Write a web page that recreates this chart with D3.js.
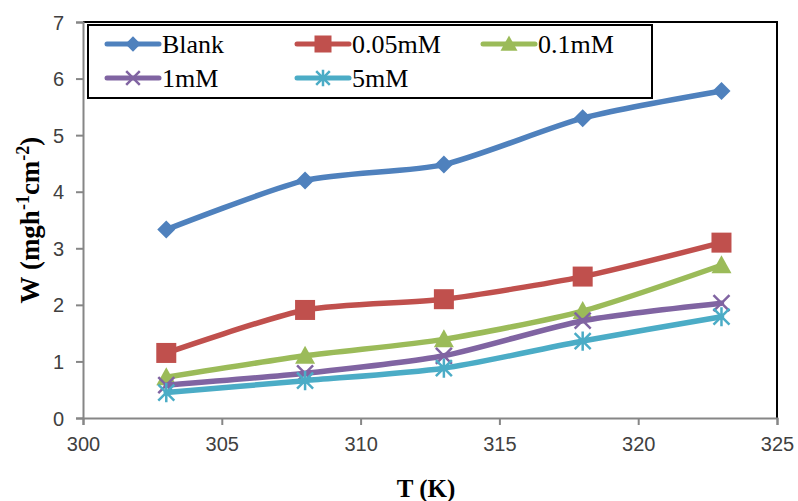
<!DOCTYPE html>
<html>
<head>
<meta charset="utf-8">
<script src="https://cdn.jsdelivr.net/npm/d3@7"></script>
<style>
  body { margin: 0; background: #fff; }
  .tick text { font-family: "Liberation Sans", Arial, sans-serif; font-size: 20px; fill: #404040; }
  .serif { font-family: "Liberation Serif", "Times New Roman", serif; }
</style>
</head>
<body>
<div id="chart"></div>
<script>
var temps = [303, 308, 313, 318, 323];
var blank = [3.33, 4.2, 4.48, 5.3, 5.78];
var c005  = [1.15, 1.91, 2.1, 2.5, 3.1];
var c01   = [0.72, 1.1, 1.39, 1.89, 2.7];
var c1    = [0.58, 0.79, 1.1, 1.72, 2.03];
var c5    = [0.45, 0.66, 0.88, 1.36, 1.79];
var xTicks = [300, 305, 310, 315, 320, 325];
var yTicks = [0, 1, 2, 3, 4, 5, 6, 7];

var series = [
  {name: "Blank",   values: blank, color: "#4F81BD", marker: "diamond"},
  {name: "0.05mM",  values: c005,  color: "#C0504D", marker: "square"},
  {name: "0.1mM",   values: c01,   color: "#9BBB59", marker: "triangle"},
  {name: "1mM",     values: c1,    color: "#8064A2", marker: "x"},
  {name: "5mM",     values: c5,    color: "#4BACC6", marker: "star"}
];

var margin = {top: 22, right: 21, bottom: 83, left: 83};
var W = 798, H = 501;
var width = W - margin.left - margin.right;
var height = H - margin.top - margin.bottom;

var x = d3.scaleLinear().domain([300, 325]).range([0, width]);
var y = d3.scaleLinear().domain([0, 7]).range([height, 0]);

var svg = d3.select("#chart").append("svg").attr("width", W).attr("height", H);
var g = svg.append("g").attr("transform", "translate(" + margin.left + "," + margin.top + ")");

// frame top / right
g.append("path").attr("d", "M0,0H" + width + "V" + height)
  .attr("fill", "none").attr("stroke", "#000").attr("stroke-width", 2);

var axX = g.append("g").attr("transform", "translate(0," + height + ")")
  .call(d3.axisBottom(x).tickValues(xTicks).tickFormat(d3.format("d")).tickSize(7).tickPadding(12));
var axY = g.append("g")
  .call(d3.axisLeft(y).tickValues(yTicks).tickFormat(d3.format("d")).tickSize(7).tickPadding(12));
[axX, axY].forEach(function(a) {
  a.select(".domain").attr("stroke", "#868686").attr("stroke-width", 2);
  a.selectAll(".tick line").attr("stroke", "#868686").attr("stroke-width", 2);
});
axY.selectAll(".tick text").attr("dy", "0.35em");

var line = d3.line()
  .x(function(d, i) { return x(temps[i]); })
  .y(function(d) { return y(d); })
  .curve(d3.curveCardinal.tension(0.3));

function drawMarker(sel, type, color, s) {
  if (type === "diamond") {
    sel.append("path").attr("d", "M0,-" + s + "L" + s + ",0L0," + s + "L-" + s + ",0Z").attr("fill", color);
  } else if (type === "square") {
    sel.append("rect").attr("x", -s).attr("y", -s).attr("width", 2 * s).attr("height", 2 * s).attr("fill", color);
  } else if (type === "triangle") {
    sel.append("path").attr("d", "M0,-" + s + "L" + s + "," + (s * 0.8) + "L-" + s + "," + (s * 0.8) + "Z").attr("fill", color);
  } else if (type === "x") {
    sel.append("path").attr("d", "M-" + s + ",-" + s + "L" + s + "," + s + "M" + s + ",-" + s + "L-" + s + "," + s)
      .attr("stroke", color).attr("stroke-width", 2.5);
  } else {
    sel.append("path").attr("d", "M-" + s + ",-" + s + "L" + s + "," + s + "M" + s + ",-" + s + "L-" + s + "," + s + "M0,-" + (s * 1.2) + "V" + (s * 1.2))
      .attr("stroke", color).attr("stroke-width", 2.5);
  }
}

var sizes = {diamond: 9, square: 10, triangle: 10, x: 8, star: 8};

series.forEach(function(s) {
  g.append("path").datum(s.values).attr("d", line)
    .attr("fill", "none").attr("stroke", s.color).attr("stroke-width", 5.5).attr("stroke-linecap", "round");
  s.values.forEach(function(v, i) {
    var m = g.append("g").attr("transform", "translate(" + x(temps[i]) + "," + y(v) + ")");
    drawMarker(m, s.marker, s.color, sizes[s.marker]);
  });
});

// legend
var lg = svg.append("g");
lg.append("rect").attr("x", 88).attr("y", 25).attr("width", 564).attr("height", 73)
  .attr("fill", "#fff").attr("stroke", "#000").attr("stroke-width", 2);
var lpos = [[107, 44], [297, 44], [483, 44], [107, 78], [297, 78]];
series.forEach(function(s, i) {
  var p = lpos[i];
  var e = lg.append("g").attr("transform", "translate(" + p[0] + "," + p[1] + ")");
  e.append("line").attr("x1", 0).attr("x2", 52).attr("stroke", s.color).attr("stroke-width", 5).attr("stroke-linecap", "round");
  var m = e.append("g").attr("transform", "translate(26,0)");
  drawMarker(m, s.marker, s.color, sizes[s.marker] * 0.85);
  e.append("text").attr("class", "serif").attr("x", 55).attr("y", 9).text(s.name)
    .attr("font-size", 26).attr("fill", "#000");
});

// axis titles
svg.append("text").attr("class", "serif").attr("x", margin.left + width / 2 - 4).attr("y", 497)
  .attr("text-anchor", "middle")
  .attr("font-weight", "bold").attr("font-size", 25).text("T (K)");

var yt = svg.append("text").attr("class", "serif")
  .attr("transform", "translate(39," + (margin.top + height / 2) + ") rotate(-90)")
  .attr("text-anchor", "middle")
  .attr("font-weight", "bold").attr("font-size", 27);
yt.append("tspan").text("W (mgh");
yt.append("tspan").attr("baseline-shift", "super").attr("font-size", 18).text("-1");
yt.append("tspan").text("cm");
yt.append("tspan").attr("baseline-shift", "super").attr("font-size", 18).text("-2");
yt.append("tspan").text(")");
</script>
</body>
</html>
